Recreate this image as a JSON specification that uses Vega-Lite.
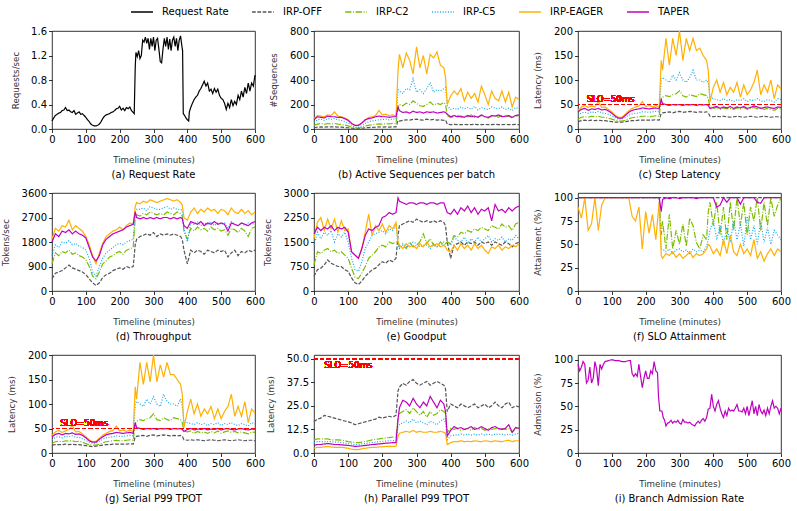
{
"$schema":"https://vega.github.io/schema/vega-lite/v6.json",
"background":"white",
"padding":{"left":1,"top":0,"right":5,"bottom":5},
"columns":3,
"bounds":"flush",
"align":"each",
"spacing":{"row":64,"column":59},
"resolve":{"scale":{"color":"shared","strokeDash":"shared"}},
"datasets":{
"pa":[{"t":0,"a":0.13},{"t":5,"a":0.18},{"t":10,"a":0.22},{"t":15,"a":0.24},{"t":20,"a":0.26},{"t":25,"a":0.27},{"t":30,"a":0.3},{"t":35,"a":0.31},{"t":40,"a":0.35},{"t":45,"a":0.3},{"t":50,"a":0.31},{"t":55,"a":0.28},{"t":60,"a":0.27},{"t":65,"a":0.3},{"t":70,"a":0.24},{"t":75,"a":0.26},{"t":80,"a":0.28},{"t":85,"a":0.24},{"t":90,"a":0.25},{"t":95,"a":0.22},{"t":100,"a":0.19},{"t":105,"a":0.15},{"t":110,"a":0.12},{"t":115,"a":0.08},{"t":120,"a":0.06},{"t":125,"a":0.05},{"t":130,"a":0.05},{"t":135,"a":0.06},{"t":140,"a":0.08},{"t":145,"a":0.12},{"t":150,"a":0.17},{"t":155,"a":0.21},{"t":160,"a":0.23},{"t":165,"a":0.24},{"t":170,"a":0.25},{"t":175,"a":0.27},{"t":180,"a":0.28},{"t":185,"a":0.3},{"t":190,"a":0.33},{"t":195,"a":0.34},{"t":200,"a":0.37},{"t":205,"a":0.31},{"t":210,"a":0.34},{"t":215,"a":0.3},{"t":220,"a":0.35},{"t":225,"a":0.33},{"t":230,"a":0.36},{"t":235,"a":0.3},{"t":240,"a":0.27},{"t":243,"a":0.25},{"t":246,"a":1.0},{"t":248,"a":1.25},{"t":252,"a":1.18},{"t":256,"a":1.28},{"t":260,"a":1.15},{"t":264,"a":1.2},{"t":268,"a":1.45},{"t":272,"a":1.42},{"t":276,"a":1.5},{"t":280,"a":1.4},{"t":284,"a":1.48},{"t":288,"a":1.3},{"t":292,"a":1.48},{"t":296,"a":1.35},{"t":300,"a":1.5},{"t":304,"a":1.28},{"t":308,"a":1.45},{"t":312,"a":1.48},{"t":316,"a":1.3},{"t":320,"a":1.1},{"t":324,"a":1.08},{"t":328,"a":1.3},{"t":332,"a":1.48},{"t":336,"a":1.35},{"t":340,"a":1.5},{"t":344,"a":1.3},{"t":348,"a":1.47},{"t":352,"a":1.28},{"t":356,"a":1.45},{"t":360,"a":1.5},{"t":364,"a":1.35},{"t":368,"a":1.48},{"t":372,"a":1.28},{"t":376,"a":1.45},{"t":380,"a":1.52},{"t":384,"a":1.35},{"t":386,"a":1.28},{"t":388,"a":0.25},{"t":392,"a":0.22},{"t":396,"a":0.18},{"t":400,"a":0.15},{"t":404,"a":0.13},{"t":406,"a":0.28},{"t":410,"a":0.35},{"t":415,"a":0.42},{"t":420,"a":0.48},{"t":425,"a":0.52},{"t":430,"a":0.55},{"t":435,"a":0.62},{"t":440,"a":0.66},{"t":445,"a":0.72},{"t":450,"a":0.78},{"t":455,"a":0.7},{"t":460,"a":0.75},{"t":465,"a":0.62},{"t":470,"a":0.65},{"t":475,"a":0.58},{"t":480,"a":0.66},{"t":485,"a":0.6},{"t":490,"a":0.65},{"t":495,"a":0.55},{"t":500,"a":0.5},{"t":505,"a":0.48},{"t":510,"a":0.42},{"t":515,"a":0.32},{"t":520,"a":0.42},{"t":525,"a":0.35},{"t":530,"a":0.48},{"t":535,"a":0.38},{"t":540,"a":0.45},{"t":545,"a":0.4},{"t":550,"a":0.55},{"t":555,"a":0.48},{"t":560,"a":0.62},{"t":565,"a":0.52},{"t":570,"a":0.68},{"t":575,"a":0.58},{"t":580,"a":0.75},{"t":585,"a":0.62},{"t":590,"a":0.75},{"t":595,"a":0.7},{"t":600,"a":0.88}],
"pb":[{"t":0,"b":10,"c":30,"d":55,"e":85,"f":75},{"t":10,"b":15,"c":40,"d":75,"e":110,"f":100},{"t":20,"b":17,"c":45,"d":80,"e":105,"f":95},{"t":30,"b":15,"c":38,"d":70,"e":100,"f":90},{"t":40,"b":18,"c":45,"d":85,"e":115,"f":105},{"t":50,"b":17,"c":42,"d":80,"e":110,"f":100},{"t":60,"b":18,"c":45,"d":85,"e":140,"f":100},{"t":70,"b":16,"c":40,"d":75,"e":105,"f":95},{"t":80,"b":15,"c":38,"d":70,"e":100,"f":95},{"t":90,"b":12,"c":32,"d":60,"e":90,"f":85},{"t":100,"b":10,"c":25,"d":50,"e":75,"f":70},{"t":110,"b":7,"c":15,"d":30,"e":45,"f":45},{"t":120,"b":5,"c":8,"d":15,"e":28,"f":30},{"t":130,"b":5,"c":8,"d":15,"e":30,"f":30},{"t":140,"b":6,"c":12,"d":25,"e":45,"f":50},{"t":150,"b":10,"c":25,"d":45,"e":75,"f":75},{"t":160,"b":12,"c":30,"d":60,"e":95,"f":85},{"t":170,"b":14,"c":35,"d":65,"e":100,"f":90},{"t":180,"b":15,"c":38,"d":70,"e":110,"f":100},{"t":190,"b":17,"c":42,"d":75,"e":150,"f":105},{"t":200,"b":16,"c":40,"d":78,"e":115,"f":100},{"t":210,"b":17,"c":43,"d":80,"e":120,"f":100},{"t":220,"b":16,"c":42,"d":75,"e":110,"f":95},{"t":230,"b":18,"c":45,"d":82,"e":115,"f":100},{"t":240,"b":17,"c":44,"d":80,"e":105,"f":100},{"t":246,"b":70,"c":175,"d":320,"e":480,"f":180},{"t":250,"b":65,"c":200,"d":310,"e":610,"f":150},{"t":260,"b":70,"c":190,"d":290,"e":500,"f":135},{"t":270,"b":75,"c":210,"d":330,"e":620,"f":140},{"t":280,"b":72,"c":200,"d":320,"e":560,"f":130},{"t":290,"b":78,"c":230,"d":410,"e":450,"f":145},{"t":300,"b":80,"c":210,"d":300,"e":670,"f":135},{"t":310,"b":75,"c":190,"d":320,"e":500,"f":140},{"t":320,"b":72,"c":185,"d":290,"e":600,"f":130},{"t":330,"b":80,"c":200,"d":330,"e":450,"f":140},{"t":340,"b":75,"c":220,"d":380,"e":610,"f":135},{"t":350,"b":78,"c":195,"d":300,"e":580,"f":140},{"t":360,"b":72,"c":210,"d":320,"e":630,"f":130},{"t":370,"b":75,"c":200,"d":310,"e":520,"f":135},{"t":380,"b":70,"c":215,"d":330,"e":500,"f":140},{"t":385,"b":72,"c":200,"d":340,"e":420,"f":135},{"t":390,"b":40,"c":110,"d":190,"e":200,"f":120},{"t":400,"b":35,"c":95,"d":160,"e":270,"f":100},{"t":410,"b":38,"c":100,"d":170,"e":310,"f":110},{"t":420,"b":36,"c":110,"d":160,"e":280,"f":100},{"t":430,"b":35,"c":95,"d":180,"e":330,"f":105},{"t":440,"b":37,"c":105,"d":165,"e":230,"f":95},{"t":450,"b":36,"c":100,"d":175,"e":300,"f":110},{"t":460,"b":35,"c":115,"d":160,"e":250,"f":100},{"t":470,"b":38,"c":95,"d":185,"e":290,"f":105},{"t":480,"b":36,"c":100,"d":155,"e":220,"f":95},{"t":490,"b":35,"c":110,"d":175,"e":350,"f":115},{"t":500,"b":37,"c":100,"d":165,"e":280,"f":100},{"t":510,"b":36,"c":90,"d":160,"e":200,"f":95},{"t":520,"b":35,"c":105,"d":180,"e":310,"f":110},{"t":530,"b":38,"c":110,"d":170,"e":250,"f":105},{"t":540,"b":36,"c":95,"d":165,"e":230,"f":115},{"t":550,"b":35,"c":110,"d":180,"e":310,"f":100},{"t":560,"b":37,"c":100,"d":160,"e":220,"f":105},{"t":570,"b":36,"c":105,"d":170,"e":300,"f":110},{"t":580,"b":35,"c":90,"d":150,"e":180,"f":95},{"t":590,"b":37,"c":105,"d":175,"e":260,"f":110},{"t":600,"b":36,"c":110,"d":165,"e":240,"f":115}],
"pc":[{"t":0,"b":15,"c":20,"d":28,"e":38,"f":35},{"t":10,"b":17,"c":24,"d":33,"e":45,"f":40},{"t":20,"b":18,"c":25,"d":34,"e":48,"f":42},{"t":30,"b":17,"c":24,"d":32,"e":44,"f":38},{"t":40,"b":18,"c":26,"d":35,"e":47,"f":41},{"t":50,"b":17,"c":25,"d":33,"e":45,"f":40},{"t":60,"b":18,"c":26,"d":36,"e":56,"f":42},{"t":70,"b":17,"c":24,"d":33,"e":44,"f":39},{"t":80,"b":17,"c":24,"d":32,"e":45,"f":40},{"t":90,"b":16,"c":22,"d":30,"e":40,"f":37},{"t":100,"b":15,"c":20,"d":27,"e":35,"f":32},{"t":110,"b":14,"c":18,"d":23,"e":28,"f":26},{"t":120,"b":14,"c":16,"d":20,"e":24,"f":22},{"t":130,"b":14,"c":16,"d":20,"e":24,"f":22},{"t":140,"b":15,"c":18,"d":24,"e":30,"f":28},{"t":150,"b":16,"c":21,"d":28,"e":37,"f":34},{"t":160,"b":17,"c":23,"d":31,"e":42,"f":38},{"t":170,"b":17,"c":24,"d":32,"e":45,"f":40},{"t":180,"b":18,"c":25,"d":33,"e":47,"f":41},{"t":190,"b":18,"c":26,"d":35,"e":56,"f":43},{"t":200,"b":18,"c":26,"d":35,"e":46,"f":42},{"t":210,"b":18,"c":25,"d":34,"e":48,"f":41},{"t":220,"b":18,"c":26,"d":35,"e":45,"f":42},{"t":230,"b":19,"c":27,"d":36,"e":48,"f":43},{"t":240,"b":18,"c":26,"d":35,"e":44,"f":41},{"t":246,"b":32,"c":62,"d":100,"e":140,"f":60},{"t":250,"b":33,"c":65,"d":105,"e":120,"f":52},{"t":260,"b":34,"c":68,"d":100,"e":185,"f":50},{"t":270,"b":35,"c":66,"d":95,"e":130,"f":48},{"t":280,"b":33,"c":70,"d":110,"e":185,"f":50},{"t":290,"b":35,"c":72,"d":100,"e":150,"f":49},{"t":300,"b":36,"c":78,"d":115,"e":200,"f":50},{"t":310,"b":34,"c":68,"d":100,"e":140,"f":48},{"t":320,"b":35,"c":65,"d":95,"e":185,"f":50},{"t":330,"b":36,"c":70,"d":105,"e":160,"f":49},{"t":340,"b":35,"c":68,"d":120,"e":185,"f":50},{"t":350,"b":34,"c":66,"d":100,"e":160,"f":48},{"t":360,"b":35,"c":72,"d":100,"e":165,"f":50},{"t":370,"b":34,"c":70,"d":95,"e":150,"f":49},{"t":380,"b":35,"c":68,"d":100,"e":140,"f":50},{"t":385,"b":33,"c":62,"d":95,"e":120,"f":48},{"t":390,"b":26,"c":45,"d":65,"e":55,"f":42},{"t":400,"b":25,"c":42,"d":62,"e":85,"f":44},{"t":410,"b":26,"c":44,"d":60,"e":100,"f":46},{"t":420,"b":25,"c":40,"d":58,"e":75,"f":42},{"t":430,"b":26,"c":43,"d":62,"e":95,"f":45},{"t":440,"b":25,"c":41,"d":58,"e":70,"f":43},{"t":450,"b":24,"c":42,"d":60,"e":85,"f":46},{"t":460,"b":25,"c":40,"d":56,"e":75,"f":42},{"t":470,"b":26,"c":43,"d":60,"e":95,"f":45},{"t":480,"b":25,"c":41,"d":58,"e":65,"f":43},{"t":490,"b":24,"c":44,"d":62,"e":90,"f":46},{"t":500,"b":25,"c":40,"d":56,"e":70,"f":42},{"t":510,"b":26,"c":42,"d":60,"e":80,"f":44},{"t":520,"b":25,"c":44,"d":58,"e":95,"f":47},{"t":530,"b":24,"c":41,"d":62,"e":120,"f":45},{"t":540,"b":25,"c":43,"d":58,"e":70,"f":42},{"t":550,"b":26,"c":40,"d":56,"e":90,"f":44},{"t":560,"b":25,"c":42,"d":60,"e":75,"f":45},{"t":570,"b":24,"c":40,"d":58,"e":100,"f":43},{"t":580,"b":25,"c":38,"d":55,"e":62,"f":42},{"t":590,"b":25,"c":42,"d":62,"e":90,"f":45},{"t":600,"b":24,"c":41,"d":60,"e":82,"f":44}],
"pd":[{"t":0,"b":450,"c":1000,"d":1300,"e":1900,"f":1800},{"t":10,"b":650,"c":1400,"d":1700,"e":2300,"f":2100},{"t":20,"b":700,"c":1300,"d":1600,"e":2200,"f":2000},{"t":30,"b":750,"c":1450,"d":1800,"e":2400,"f":2200},{"t":40,"b":850,"c":1400,"d":1750,"e":2350,"f":2150},{"t":50,"b":950,"c":1500,"d":1850,"e":2600,"f":2250},{"t":60,"b":850,"c":1350,"d":1700,"e":2250,"f":2100},{"t":70,"b":800,"c":1400,"d":1750,"e":2400,"f":2200},{"t":80,"b":750,"c":1300,"d":1650,"e":2300,"f":2100},{"t":90,"b":700,"c":1250,"d":1600,"e":2200,"f":2050},{"t":100,"b":600,"c":1150,"d":1500,"e":2000,"f":1950},{"t":110,"b":450,"c":900,"d":1200,"e":1700,"f":1600},{"t":120,"b":300,"c":550,"d":700,"e":1300,"f":1250},{"t":130,"b":200,"c":450,"d":550,"e":1000,"f":1100},{"t":140,"b":300,"c":700,"d":900,"e":1400,"f":1300},{"t":150,"b":500,"c":1000,"d":1200,"e":1750,"f":1700},{"t":160,"b":600,"c":1100,"d":1400,"e":2000,"f":1900},{"t":170,"b":650,"c":1250,"d":1500,"e":2100,"f":2000},{"t":180,"b":750,"c":1300,"d":1600,"e":2200,"f":2100},{"t":190,"b":800,"c":1400,"d":1700,"e":2250,"f":2150},{"t":200,"b":850,"c":1450,"d":1750,"e":2350,"f":2200},{"t":210,"b":800,"c":1350,"d":1700,"e":2250,"f":2250},{"t":220,"b":900,"c":1500,"d":1800,"e":2400,"f":2350},{"t":230,"b":850,"c":1550,"d":1850,"e":2500,"f":2400},{"t":240,"b":900,"c":1600,"d":1900,"e":2450,"f":2450},{"t":246,"b":1700,"c":2700,"d":2900,"e":3100,"f":2900},{"t":250,"b":1900,"c":2800,"d":3000,"e":3250,"f":2700},{"t":260,"b":2000,"c":2750,"d":3000,"e":3200,"f":2650},{"t":270,"b":2050,"c":2850,"d":3050,"e":3300,"f":2700},{"t":280,"b":2100,"c":2800,"d":2950,"e":3250,"f":2650},{"t":290,"b":2050,"c":2900,"d":3100,"e":3350,"f":2700},{"t":300,"b":2150,"c":2850,"d":3050,"e":3300,"f":2650},{"t":310,"b":2000,"c":2800,"d":3000,"e":3250,"f":2700},{"t":320,"b":2100,"c":2850,"d":3000,"e":3300,"f":2650},{"t":330,"b":2050,"c":2800,"d":3050,"e":3350,"f":2700},{"t":340,"b":2100,"c":2900,"d":3100,"e":3400,"f":2700},{"t":350,"b":2050,"c":2850,"d":3000,"e":3350,"f":2650},{"t":360,"b":2100,"c":2800,"d":3050,"e":3300,"f":2700},{"t":370,"b":2050,"c":2900,"d":3000,"e":3350,"f":2650},{"t":380,"b":2000,"c":2850,"d":3000,"e":3250,"f":2700},{"t":385,"b":1900,"c":2750,"d":2950,"e":3150,"f":2650},{"t":390,"b":1500,"c":2200,"d":2300,"e":2700,"f":2400},{"t":400,"b":1000,"c":1900,"d":1800,"e":2600,"f":2300},{"t":410,"b":1500,"c":2300,"d":2500,"e":2900,"f":2550},{"t":420,"b":1400,"c":2200,"d":2450,"e":3050,"f":2500},{"t":430,"b":1500,"c":2350,"d":2550,"e":2850,"f":2450},{"t":440,"b":1450,"c":2250,"d":2400,"e":3000,"f":2550},{"t":450,"b":1350,"c":2300,"d":2500,"e":2900,"f":2400},{"t":460,"b":1500,"c":2200,"d":2450,"e":3050,"f":2500},{"t":470,"b":1450,"c":2350,"d":2550,"e":2950,"f":2450},{"t":480,"b":1400,"c":2250,"d":2400,"e":3000,"f":2550},{"t":490,"b":1500,"c":2300,"d":2500,"e":2850,"f":2450},{"t":500,"b":1450,"c":2200,"d":2450,"e":3000,"f":2500},{"t":510,"b":1500,"c":2250,"d":2500,"e":2950,"f":2450},{"t":520,"b":1250,"c":2050,"d":2300,"e":2800,"f":2200},{"t":530,"b":1400,"c":2300,"d":2550,"e":3050,"f":2500},{"t":540,"b":1500,"c":2250,"d":2450,"e":2900,"f":2450},{"t":550,"b":1300,"c":2150,"d":2400,"e":2850,"f":2400},{"t":560,"b":1450,"c":2300,"d":2500,"e":3000,"f":2500},{"t":570,"b":1400,"c":2200,"d":2400,"e":2850,"f":2450},{"t":580,"b":1500,"c":2000,"d":2500,"e":2950,"f":2400},{"t":590,"b":1450,"c":2300,"d":2450,"e":2800,"f":2500},{"t":600,"b":1500,"c":2350,"d":2500,"e":2900,"f":2550}],
"pe":[{"t":0,"b":450,"c":800,"d":1400,"e":1600,"f":1750},{"t":10,"b":650,"c":1200,"d":1800,"e":2100,"f":1950},{"t":20,"b":700,"c":1150,"d":1600,"e":2250,"f":1850},{"t":30,"b":800,"c":1250,"d":1800,"e":1850,"f":1950},{"t":40,"b":950,"c":1300,"d":1700,"e":2200,"f":1900},{"t":50,"b":850,"c":1200,"d":1850,"e":1900,"f":2000},{"t":60,"b":800,"c":1250,"d":1500,"e":2200,"f":1850},{"t":70,"b":750,"c":1150,"d":1750,"e":1800,"f":1950},{"t":80,"b":750,"c":1200,"d":1650,"e":2150,"f":1900},{"t":90,"b":650,"c":1100,"d":1800,"e":1850,"f":1950},{"t":100,"b":600,"c":1000,"d":1500,"e":1900,"f":1800},{"t":110,"b":400,"c":700,"d":1000,"e":1200,"f":1200},{"t":120,"b":250,"c":420,"d":650,"e":1100,"f":1100},{"t":130,"b":200,"c":380,"d":600,"e":1000,"f":1000},{"t":140,"b":300,"c":550,"d":900,"e":1300,"f":1300},{"t":150,"b":450,"c":750,"d":1300,"e":1800,"f":1700},{"t":160,"b":550,"c":1000,"d":1500,"e":2350,"f":1900},{"t":170,"b":650,"c":1100,"d":1700,"e":1700,"f":1850},{"t":180,"b":700,"c":1200,"d":1750,"e":2000,"f":1950},{"t":190,"b":800,"c":1350,"d":1800,"e":1850,"f":2000},{"t":200,"b":900,"c":1400,"d":1850,"e":2050,"f":2250},{"t":210,"b":850,"c":1350,"d":1750,"e":1800,"f":2300},{"t":220,"b":950,"c":1500,"d":1900,"e":2000,"f":2400},{"t":230,"b":900,"c":1450,"d":1850,"e":1900,"f":2350},{"t":240,"b":1000,"c":1500,"d":2000,"e":2100,"f":2400},{"t":246,"b":1700,"c":1500,"d":1400,"e":1500,"f":2850},{"t":250,"b":2000,"c":1350,"d":1300,"e":1400,"f":2750},{"t":260,"b":2050,"c":1400,"d":1450,"e":1300,"f":2700},{"t":270,"b":2100,"c":1300,"d":1350,"e":1450,"f":2650},{"t":280,"b":2150,"c":1500,"d":1400,"e":1350,"f":2700},{"t":290,"b":2100,"c":1350,"d":1500,"e":1400,"f":2700},{"t":300,"b":2200,"c":1400,"d":1450,"e":1300,"f":2650},{"t":310,"b":2150,"c":1500,"d":1350,"e":1450,"f":2700},{"t":320,"b":2100,"c":1750,"d":1400,"e":1350,"f":2700},{"t":330,"b":2150,"c":1450,"d":1400,"e":1500,"f":2650},{"t":340,"b":2100,"c":1600,"d":1300,"e":1350,"f":2700},{"t":350,"b":2150,"c":1400,"d":1450,"e":1400,"f":2700},{"t":360,"b":2100,"c":1350,"d":1350,"e":1450,"f":2650},{"t":370,"b":2150,"c":1500,"d":1400,"e":1350,"f":2700},{"t":380,"b":2100,"c":1400,"d":1500,"e":1400,"f":2700},{"t":385,"b":2000,"c":1450,"d":1450,"e":1350,"f":2550},{"t":390,"b":1500,"c":1500,"d":1500,"e":1250,"f":2400},{"t":400,"b":1000,"c":1450,"d":1400,"e":1200,"f":2350},{"t":410,"b":1400,"c":1700,"d":1650,"e":1400,"f":2500},{"t":420,"b":1450,"c":1650,"d":1550,"e":1250,"f":2350},{"t":430,"b":1500,"c":1800,"d":1500,"e":1450,"f":2550},{"t":440,"b":1400,"c":1750,"d":1650,"e":1300,"f":2450},{"t":450,"b":1500,"c":1850,"d":1450,"e":1400,"f":2600},{"t":460,"b":1450,"c":1800,"d":1600,"e":1250,"f":2400},{"t":470,"b":1500,"c":1900,"d":1500,"e":1450,"f":2550},{"t":480,"b":1400,"c":1850,"d":1650,"e":1300,"f":2350},{"t":490,"b":1500,"c":1950,"d":1500,"e":1400,"f":2500},{"t":500,"b":1450,"c":1900,"d":1600,"e":1250,"f":2450},{"t":510,"b":1500,"c":1850,"d":1700,"e":1150,"f":2550},{"t":520,"b":1400,"c":2000,"d":1500,"e":1350,"f":2150},{"t":530,"b":1500,"c":1950,"d":1600,"e":1300,"f":2650},{"t":540,"b":1450,"c":1900,"d":1550,"e":1400,"f":2450},{"t":550,"b":1400,"c":2050,"d":1650,"e":1250,"f":2500},{"t":560,"b":1500,"c":1950,"d":1500,"e":1350,"f":2400},{"t":570,"b":1450,"c":2000,"d":1600,"e":1300,"f":2550},{"t":580,"b":1350,"c":1850,"d":1550,"e":1400,"f":2450},{"t":590,"b":1450,"c":2050,"d":1700,"e":1350,"f":2550},{"t":600,"b":1500,"c":2100,"d":1600,"e":1450,"f":2600}],
"pf":[{"t":0,"b":100,"c":100,"d":100,"e":90,"f":100},{"t":10,"b":100,"c":100,"d":100,"e":78,"f":100},{"t":20,"b":100,"c":100,"d":100,"e":100,"f":100},{"t":30,"b":100,"c":100,"d":100,"e":65,"f":100},{"t":40,"b":100,"c":100,"d":100,"e":72,"f":100},{"t":50,"b":100,"c":100,"d":100,"e":100,"f":100},{"t":60,"b":100,"c":100,"d":100,"e":65,"f":100},{"t":70,"b":100,"c":100,"d":100,"e":92,"f":100},{"t":80,"b":100,"c":100,"d":100,"e":100,"f":100},{"t":90,"b":100,"c":100,"d":100,"e":100,"f":100},{"t":100,"b":100,"c":100,"d":100,"e":100,"f":100},{"t":110,"b":100,"c":100,"d":100,"e":100,"f":100},{"t":120,"b":100,"c":100,"d":100,"e":100,"f":100},{"t":130,"b":100,"c":100,"d":100,"e":100,"f":100},{"t":140,"b":100,"c":100,"d":100,"e":100,"f":100},{"t":150,"b":100,"c":100,"d":100,"e":100,"f":100},{"t":160,"b":100,"c":100,"d":100,"e":80,"f":100},{"t":170,"b":100,"c":100,"d":100,"e":75,"f":100},{"t":180,"b":100,"c":100,"d":100,"e":90,"f":100},{"t":190,"b":100,"c":100,"d":100,"e":45,"f":100},{"t":200,"b":100,"c":100,"d":100,"e":85,"f":100},{"t":210,"b":100,"c":100,"d":100,"e":62,"f":100},{"t":220,"b":100,"c":100,"d":100,"e":82,"f":100},{"t":230,"b":100,"c":100,"d":100,"e":55,"f":100},{"t":240,"b":100,"c":100,"d":100,"e":95,"f":100},{"t":246,"b":100,"c":60,"d":45,"e":38,"f":85},{"t":250,"b":100,"c":75,"d":45,"e":35,"f":98},{"t":260,"b":100,"c":45,"d":42,"e":40,"f":100},{"t":270,"b":100,"c":82,"d":45,"e":38,"f":99},{"t":280,"b":100,"c":45,"d":40,"e":42,"f":100},{"t":290,"b":100,"c":65,"d":44,"e":36,"f":100},{"t":300,"b":100,"c":50,"d":45,"e":40,"f":99},{"t":310,"b":100,"c":72,"d":42,"e":35,"f":100},{"t":320,"b":100,"c":48,"d":44,"e":38,"f":100},{"t":330,"b":100,"c":78,"d":40,"e":42,"f":100},{"t":340,"b":100,"c":70,"d":45,"e":36,"f":100},{"t":350,"b":100,"c":52,"d":42,"e":40,"f":99},{"t":360,"b":100,"c":45,"d":44,"e":38,"f":100},{"t":370,"b":100,"c":60,"d":42,"e":40,"f":100},{"t":380,"b":100,"c":55,"d":48,"e":45,"f":100},{"t":385,"b":100,"c":85,"d":55,"e":50,"f":100},{"t":390,"b":100,"c":95,"d":65,"e":48,"f":100},{"t":400,"b":100,"c":70,"d":75,"e":40,"f":100},{"t":410,"b":100,"c":95,"d":55,"e":45,"f":90},{"t":420,"b":100,"c":60,"d":70,"e":38,"f":92},{"t":430,"b":100,"c":90,"d":50,"e":55,"f":100},{"t":440,"b":100,"c":55,"d":68,"e":40,"f":95},{"t":450,"b":100,"c":95,"d":52,"e":60,"f":100},{"t":460,"b":100,"c":65,"d":75,"e":42,"f":100},{"t":470,"b":100,"c":100,"d":55,"e":38,"f":100},{"t":480,"b":100,"c":70,"d":72,"e":50,"f":93},{"t":490,"b":100,"c":95,"d":48,"e":40,"f":100},{"t":500,"b":100,"c":60,"d":80,"e":45,"f":100},{"t":510,"b":100,"c":90,"d":55,"e":38,"f":100},{"t":520,"b":100,"c":75,"d":70,"e":55,"f":100},{"t":530,"b":100,"c":100,"d":50,"e":35,"f":95},{"t":540,"b":100,"c":65,"d":75,"e":42,"f":94},{"t":550,"b":100,"c":95,"d":52,"e":32,"f":100},{"t":560,"b":100,"c":70,"d":68,"e":40,"f":100},{"t":570,"b":100,"c":100,"d":50,"e":45,"f":100},{"t":580,"b":100,"c":80,"d":65,"e":38,"f":100},{"t":590,"b":100,"c":92,"d":60,"e":45,"f":100},{"t":600,"b":100,"c":100,"d":55,"e":42,"f":100}],
"pg":[{"t":0,"b":16,"c":20,"d":27,"e":36,"f":33},{"t":10,"b":17,"c":23,"d":32,"e":43,"f":38},{"t":20,"b":17,"c":24,"d":33,"e":46,"f":40},{"t":30,"b":17,"c":23,"d":31,"e":42,"f":37},{"t":40,"b":18,"c":25,"d":34,"e":45,"f":40},{"t":50,"b":17,"c":24,"d":33,"e":48,"f":39},{"t":60,"b":18,"c":25,"d":35,"e":56,"f":41},{"t":70,"b":17,"c":23,"d":32,"e":43,"f":38},{"t":80,"b":17,"c":24,"d":32,"e":44,"f":39},{"t":90,"b":16,"c":22,"d":29,"e":39,"f":36},{"t":100,"b":15,"c":19,"d":26,"e":33,"f":31},{"t":110,"b":14,"c":17,"d":22,"e":27,"f":25},{"t":120,"b":13,"c":16,"d":20,"e":23,"f":22},{"t":130,"b":14,"c":16,"d":20,"e":24,"f":22},{"t":140,"b":15,"c":18,"d":24,"e":30,"f":28},{"t":150,"b":16,"c":21,"d":28,"e":36,"f":33},{"t":160,"b":17,"c":23,"d":31,"e":40,"f":37},{"t":170,"b":17,"c":24,"d":32,"e":44,"f":39},{"t":180,"b":18,"c":25,"d":33,"e":46,"f":40},{"t":190,"b":18,"c":26,"d":35,"e":55,"f":42},{"t":200,"b":18,"c":25,"d":34,"e":45,"f":41},{"t":210,"b":18,"c":25,"d":34,"e":47,"f":40},{"t":220,"b":18,"c":26,"d":35,"e":44,"f":41},{"t":230,"b":19,"c":27,"d":36,"e":47,"f":42},{"t":240,"b":18,"c":26,"d":35,"e":43,"f":40},{"t":246,"b":33,"c":60,"d":100,"e":135,"f":62},{"t":250,"b":34,"c":65,"d":105,"e":110,"f":52},{"t":260,"b":35,"c":68,"d":100,"e":185,"f":50},{"t":270,"b":36,"c":66,"d":95,"e":140,"f":48},{"t":280,"b":34,"c":70,"d":110,"e":185,"f":50},{"t":290,"b":36,"c":72,"d":100,"e":145,"f":49},{"t":300,"b":37,"c":80,"d":115,"e":200,"f":50},{"t":310,"b":35,"c":68,"d":100,"e":145,"f":48},{"t":320,"b":36,"c":66,"d":95,"e":180,"f":50},{"t":330,"b":37,"c":72,"d":120,"e":155,"f":49},{"t":340,"b":36,"c":68,"d":105,"e":185,"f":50},{"t":350,"b":35,"c":66,"d":100,"e":160,"f":48},{"t":360,"b":36,"c":72,"d":100,"e":160,"f":50},{"t":370,"b":35,"c":70,"d":95,"e":150,"f":49},{"t":380,"b":36,"c":68,"d":110,"e":140,"f":50},{"t":385,"b":34,"c":62,"d":95,"e":120,"f":48},{"t":390,"b":27,"c":45,"d":62,"e":52,"f":44},{"t":400,"b":26,"c":43,"d":62,"e":85,"f":48},{"t":410,"b":27,"c":45,"d":60,"e":110,"f":50},{"t":420,"b":26,"c":40,"d":58,"e":80,"f":47},{"t":430,"b":27,"c":44,"d":62,"e":100,"f":49},{"t":440,"b":26,"c":41,"d":58,"e":75,"f":48},{"t":450,"b":25,"c":43,"d":60,"e":90,"f":50},{"t":460,"b":26,"c":40,"d":56,"e":80,"f":47},{"t":470,"b":27,"c":44,"d":60,"e":95,"f":49},{"t":480,"b":26,"c":41,"d":58,"e":70,"f":48},{"t":490,"b":25,"c":45,"d":62,"e":90,"f":50},{"t":500,"b":26,"c":40,"d":56,"e":70,"f":47},{"t":510,"b":27,"c":43,"d":60,"e":85,"f":49},{"t":520,"b":26,"c":45,"d":58,"e":95,"f":50},{"t":530,"b":25,"c":42,"d":62,"e":120,"f":48},{"t":540,"b":26,"c":44,"d":58,"e":75,"f":47},{"t":550,"b":27,"c":41,"d":56,"e":95,"f":49},{"t":560,"b":26,"c":43,"d":60,"e":75,"f":50},{"t":570,"b":25,"c":41,"d":58,"e":105,"f":48},{"t":580,"b":26,"c":39,"d":55,"e":62,"f":47},{"t":590,"b":26,"c":43,"d":62,"e":90,"f":49},{"t":600,"b":25,"c":42,"d":60,"e":82,"f":48}],
"ph":[{"t":0,"b":16.5,"c":7,"d":5.5,"e":2.5,"f":4},{"t":10,"b":18,"c":7.5,"d":6,"e":3,"f":4.5},{"t":20,"b":18.5,"c":7.5,"d":6,"e":3,"f":4.5},{"t":30,"b":20,"c":7.5,"d":6,"e":3.2,"f":4.8},{"t":40,"b":19.5,"c":7.5,"d":6,"e":3.5,"f":5},{"t":50,"b":19,"c":7,"d":6,"e":3.2,"f":4.8},{"t":60,"b":18.5,"c":7,"d":5.8,"e":3,"f":4.5},{"t":70,"b":18,"c":7,"d":5.8,"e":3,"f":4.5},{"t":80,"b":17.5,"c":6.8,"d":5.5,"e":3,"f":4.3},{"t":90,"b":17,"c":6.5,"d":5.3,"e":2.8,"f":4.2},{"t":100,"b":16.5,"c":6,"d":5,"e":2.5,"f":4},{"t":110,"b":16,"c":5.8,"d":4.8,"e":2,"f":3.8},{"t":120,"b":15,"c":5.5,"d":4.5,"e":1.8,"f":3.5},{"t":130,"b":15.5,"c":5.5,"d":4.5,"e":1.8,"f":3.6},{"t":140,"b":16,"c":5.8,"d":4.8,"e":2.2,"f":3.8},{"t":150,"b":16.5,"c":6,"d":5,"e":2.5,"f":4},{"t":160,"b":17,"c":6.5,"d":5.3,"e":2.8,"f":4.2},{"t":170,"b":17.5,"c":7,"d":5.5,"e":3,"f":4.5},{"t":180,"b":18,"c":7.3,"d":5.8,"e":3,"f":4.6},{"t":190,"b":19,"c":7.5,"d":6,"e":3.2,"f":4.8},{"t":200,"b":18.5,"c":7.8,"d":6.2,"e":3.3,"f":5},{"t":210,"b":19,"c":8,"d":6.3,"e":3.5,"f":5.2},{"t":220,"b":19.5,"c":8.2,"d":6.5,"e":3.5,"f":5.3},{"t":230,"b":19,"c":8.5,"d":6.5,"e":3.5,"f":5.5},{"t":240,"b":20,"c":8.5,"d":6.8,"e":3.6,"f":5.5},{"t":246,"b":33,"c":19,"d":14,"e":9,"f":18},{"t":250,"b":35,"c":21,"d":15,"e":10.5,"f":24},{"t":260,"b":37,"c":22,"d":16,"e":11,"f":28},{"t":270,"b":36,"c":23,"d":17,"e":11.5,"f":27},{"t":280,"b":38,"c":21,"d":16,"e":11,"f":25},{"t":290,"b":39,"c":24,"d":18,"e":12,"f":29},{"t":300,"b":37,"c":22,"d":16,"e":11,"f":26},{"t":310,"b":36,"c":20,"d":17,"e":11.5,"f":24},{"t":320,"b":37,"c":22,"d":16,"e":11,"f":27},{"t":330,"b":38,"c":19,"d":15,"e":11,"f":25},{"t":340,"b":36,"c":22,"d":17,"e":11.5,"f":30},{"t":350,"b":37,"c":20,"d":16,"e":11,"f":27},{"t":360,"b":38,"c":21,"d":15,"e":11,"f":24},{"t":370,"b":37,"c":23,"d":17,"e":11.5,"f":28},{"t":380,"b":36,"c":22,"d":18,"e":11,"f":26},{"t":385,"b":34,"c":21,"d":16,"e":10.5,"f":22},{"t":390,"b":22,"c":11,"d":7,"e":4.5,"f":9},{"t":400,"b":26,"c":13,"d":9,"e":5.5,"f":12},{"t":410,"b":25,"c":12.5,"d":9.5,"e":6,"f":14},{"t":420,"b":24,"c":13,"d":9.5,"e":6,"f":13},{"t":430,"b":26,"c":12,"d":10,"e":6.5,"f":13.5},{"t":440,"b":25,"c":12.5,"d":9.5,"e":6,"f":12.5},{"t":450,"b":24,"c":13,"d":10,"e":6.2,"f":13},{"t":460,"b":25,"c":12,"d":9.5,"e":6,"f":14},{"t":470,"b":26,"c":13.5,"d":10,"e":6.5,"f":12.5},{"t":480,"b":24,"c":12.5,"d":9.5,"e":6.2,"f":13},{"t":490,"b":25,"c":13,"d":10,"e":6,"f":14},{"t":500,"b":26,"c":12,"d":9.5,"e":6.5,"f":13},{"t":510,"b":24,"c":13,"d":10,"e":6.3,"f":12},{"t":520,"b":25,"c":12.5,"d":9.5,"e":6,"f":13.5},{"t":530,"b":27,"c":13,"d":10,"e":6.5,"f":14},{"t":540,"b":25,"c":12.5,"d":9.8,"e":6.2,"f":13},{"t":550,"b":24,"c":13,"d":10,"e":6,"f":12.5},{"t":560,"b":26,"c":12.5,"d":9.5,"e":6.5,"f":13},{"t":570,"b":27,"c":13,"d":10,"e":6.8,"f":15},{"t":580,"b":24,"c":11,"d":9.5,"e":6,"f":11},{"t":590,"b":25,"c":13,"d":10,"e":6.5,"f":13.5},{"t":600,"b":24.5,"c":13.5,"d":10.5,"e":6.5,"f":13}],
"pi":[{"t":0,"f":95},{"t":5,"f":88},{"t":10,"f":92},{"t":15,"f":98},{"t":20,"f":95},{"t":25,"f":75},{"t":30,"f":78},{"t":35,"f":92},{"t":40,"f":75},{"t":45,"f":80},{"t":50,"f":98},{"t":55,"f":90},{"t":60,"f":72},{"t":65,"f":95},{"t":70,"f":90},{"t":75,"f":95},{"t":80,"f":98},{"t":90,"f":99},{"t":100,"f":100},{"t":110,"f":99},{"t":120,"f":99},{"t":130,"f":98},{"t":140,"f":98},{"t":150,"f":99},{"t":155,"f":99},{"t":160,"f":85},{"t":165,"f":82},{"t":170,"f":85},{"t":175,"f":82},{"t":180,"f":95},{"t":185,"f":82},{"t":190,"f":70},{"t":195,"f":80},{"t":200,"f":88},{"t":205,"f":80},{"t":210,"f":80},{"t":215,"f":88},{"t":220,"f":85},{"t":225,"f":98},{"t":230,"f":88},{"t":235,"f":86},{"t":238,"f":60},{"t":242,"f":45},{"t":248,"f":45},{"t":252,"f":38},{"t":256,"f":35},{"t":260,"f":29},{"t":265,"f":32},{"t":270,"f":33},{"t":275,"f":35},{"t":280,"f":32},{"t":285,"f":34},{"t":290,"f":33},{"t":295,"f":35},{"t":300,"f":32},{"t":305,"f":31},{"t":310,"f":36},{"t":315,"f":33},{"t":320,"f":33},{"t":325,"f":32},{"t":330,"f":33},{"t":335,"f":31},{"t":340,"f":30},{"t":345,"f":29},{"t":350,"f":32},{"t":355,"f":34},{"t":360,"f":32},{"t":365,"f":35},{"t":370,"f":37},{"t":375,"f":34},{"t":380,"f":38},{"t":385,"f":47},{"t":390,"f":48},{"t":395,"f":63},{"t":400,"f":50},{"t":405,"f":45},{"t":410,"f":52},{"t":415,"f":56},{"t":420,"f":48},{"t":425,"f":42},{"t":430,"f":38},{"t":435,"f":45},{"t":440,"f":40},{"t":445,"f":48},{"t":450,"f":45},{"t":455,"f":46},{"t":460,"f":45},{"t":465,"f":48},{"t":470,"f":52},{"t":475,"f":45},{"t":480,"f":45},{"t":485,"f":44},{"t":490,"f":48},{"t":495,"f":42},{"t":500,"f":50},{"t":505,"f":40},{"t":510,"f":48},{"t":515,"f":56},{"t":520,"f":42},{"t":525,"f":50},{"t":530,"f":40},{"t":535,"f":52},{"t":540,"f":45},{"t":545,"f":42},{"t":550,"f":46},{"t":555,"f":40},{"t":560,"f":48},{"t":565,"f":42},{"t":570,"f":50},{"t":575,"f":56},{"t":580,"f":48},{"t":585,"f":50},{"t":590,"f":48},{"t":595,"f":42},{"t":600,"f":48}]
},
"concat":[
{"width":203,"height":98,"title":"(a) Request Rate","data":{"name":"pa"},"transform":[{"fold":["a"],"as":["s","v"]}],
"layer":[{"mark":{"type":"line","strokeWidth":1.2},"encoding":{
"x":{"field":"t","type":"quantitative","scale":{"domain":[0,600],"nice":false},"axis":{"values":[0,100,200,300,400,500,600],"title":"Timeline (minutes)"}},
"y":{"field":"v","type":"quantitative","scale":{"domain":[0,1.6],"nice":false},"axis":{"values":[0,0.4,0.8,1.2,1.6],"format":".1f","title":"Requests/sec"}},
"color":{"field":"s","type":"nominal","scale":{"domain":["a","b","c","d","e","f"],"range":["#000000","#555555","#7cbd00","#1aa9f0","#ffb000","#c000c0"]},"legend":{"title":null,"orient":"none","legendX":78,"legendY":-31,"direction":"horizontal","labelExpr":"datum.label=='a'?'Request Rate':datum.label=='b'?'IRP-OFF':datum.label=='c'?'IRP-C2':datum.label=='d'?'IRP-C5':datum.label=='e'?'IRP-EAGER':'TAPER'"}},
"strokeDash":{"field":"s","type":"nominal","scale":{"domain":["a","b","c","d","e","f"],"range":[[1,0],[3.7,1.6],[6.4,1.6,1,1.6],[1,1.65],[1,0],[1,0]]},"legend":{"title":null,"orient":"none","legendX":78,"legendY":-31,"direction":"horizontal","labelExpr":"datum.label=='a'?'Request Rate':datum.label=='b'?'IRP-OFF':datum.label=='c'?'IRP-C2':datum.label=='d'?'IRP-C5':datum.label=='e'?'IRP-EAGER':'TAPER'"}}}}]},
{"width":205,"height":98,"title":"(b) Active Sequences per batch","data":{"name":"pb"},"transform":[{"fold":["b","c","d","e","f"],"as":["s","v"]}],
"layer":[{"mark":{"type":"line","strokeWidth":1.2},"encoding":{
"x":{"field":"t","type":"quantitative","scale":{"domain":[0,600],"nice":false},"axis":{"values":[0,100,200,300,400,500,600],"title":"Timeline (minutes)"}},
"y":{"field":"v","type":"quantitative","scale":{"domain":[0,800],"nice":false},"axis":{"values":[0,200,400,600,800],"format":"d","title":"#Sequences"}},
"color":{"field":"s","type":"nominal","scale":{"domain":["a","b","c","d","e","f"],"range":["#000000","#555555","#7cbd00","#1aa9f0","#ffb000","#c000c0"]}},
"strokeDash":{"field":"s","type":"nominal","scale":{"domain":["a","b","c","d","e","f"],"range":[[1,0],[3.7,1.6],[6.4,1.6,1,1.6],[1,1.65],[1,0],[1,0]]}}}}]},
{"width":203,"height":98,"title":"(c) Step Latency","data":{"name":"pc"},"transform":[{"fold":["b","c","d","e","f"],"as":["s","v"]}],
"layer":[{"mark":{"type":"line","strokeWidth":1.2},"encoding":{
"x":{"field":"t","type":"quantitative","scale":{"domain":[0,600],"nice":false},"axis":{"values":[0,100,200,300,400,500,600],"title":"Timeline (minutes)"}},
"y":{"field":"v","type":"quantitative","scale":{"domain":[0,200],"nice":false},"axis":{"values":[0,50,100,150,200],"format":"d","title":"Latency (ms)"}},
"color":{"field":"s","type":"nominal","scale":{"domain":["a","b","c","d","e","f"],"range":["#000000","#555555","#7cbd00","#1aa9f0","#ffb000","#c000c0"]}},
"strokeDash":{"field":"s","type":"nominal","scale":{"domain":["a","b","c","d","e","f"],"range":[[1,0],[3.7,1.6],[6.4,1.6,1,1.6],[1,1.65],[1,0],[1,0]]}}}},
{"mark":{"type":"rule","color":"#ff0000","strokeDash":[4,2.5],"strokeWidth":1},"encoding":{"y":{"datum":50,"type":"quantitative","scale":{"domain":[0,200],"nice":false},"axis":{"values":[0,50,100,150,200],"format":"d","title":"Latency (ms)"}}}},
{"mark":{"type":"text","color":"#ff0000","fontSize":8.6,"align":"left","baseline":"middle","dy":-6},"encoding":{"x":{"datum":26,"type":"quantitative","scale":{"domain":[0,600],"nice":false},"axis":{"values":[0,100,200,300,400,500,600],"title":"Timeline (minutes)"}},"y":{"datum":50,"type":"quantitative","scale":{"domain":[0,200],"nice":false},"axis":{"values":[0,50,100,150,200],"format":"d","title":"Latency (ms)"}},"text":{"value":"SLO=50ms"}}}]},
{"width":203,"height":98,"title":"(d) Throughput","data":{"name":"pd"},"transform":[{"fold":["b","c","d","e","f"],"as":["s","v"]}],
"layer":[{"mark":{"type":"line","strokeWidth":1.2},"encoding":{
"x":{"field":"t","type":"quantitative","scale":{"domain":[0,600],"nice":false},"axis":{"values":[0,100,200,300,400,500,600],"title":"Timeline (minutes)"}},
"y":{"field":"v","type":"quantitative","scale":{"domain":[0,3600],"nice":false},"axis":{"values":[0,900,1800,2700,3600],"format":"d","title":"Tokens/sec"}},
"color":{"field":"s","type":"nominal","scale":{"domain":["a","b","c","d","e","f"],"range":["#000000","#555555","#7cbd00","#1aa9f0","#ffb000","#c000c0"]}},
"strokeDash":{"field":"s","type":"nominal","scale":{"domain":["a","b","c","d","e","f"],"range":[[1,0],[3.7,1.6],[6.4,1.6,1,1.6],[1,1.65],[1,0],[1,0]]}}}}]},
{"width":205,"height":98,"title":"(e) Goodput","data":{"name":"pe"},"transform":[{"fold":["b","c","d","e","f"],"as":["s","v"]}],
"layer":[{"mark":{"type":"line","strokeWidth":1.2},"encoding":{
"x":{"field":"t","type":"quantitative","scale":{"domain":[0,600],"nice":false},"axis":{"values":[0,100,200,300,400,500,600],"title":"Timeline (minutes)"}},
"y":{"field":"v","type":"quantitative","scale":{"domain":[0,3000],"nice":false},"axis":{"values":[0,750,1500,2250,3000],"format":"d","title":"Tokens/sec"}},
"color":{"field":"s","type":"nominal","scale":{"domain":["a","b","c","d","e","f"],"range":["#000000","#555555","#7cbd00","#1aa9f0","#ffb000","#c000c0"]}},
"strokeDash":{"field":"s","type":"nominal","scale":{"domain":["a","b","c","d","e","f"],"range":[[1,0],[3.7,1.6],[6.4,1.6,1,1.6],[1,1.65],[1,0],[1,0]]}}}}]},
{"width":203,"height":98,"title":"(f) SLO Attainment","data":{"name":"pf"},"transform":[{"fold":["b","c","d","e","f"],"as":["s","v"]}],
"layer":[{"mark":{"type":"line","strokeWidth":1.2},"encoding":{
"x":{"field":"t","type":"quantitative","scale":{"domain":[0,600],"nice":false},"axis":{"values":[0,100,200,300,400,500,600],"title":"Timeline (minutes)"}},
"y":{"field":"v","type":"quantitative","scale":{"domain":[0,105],"nice":false},"axis":{"values":[0,25,50,75,100],"format":"d","title":"Attainment (%)"}},
"color":{"field":"s","type":"nominal","scale":{"domain":["a","b","c","d","e","f"],"range":["#000000","#555555","#7cbd00","#1aa9f0","#ffb000","#c000c0"]}},
"strokeDash":{"field":"s","type":"nominal","scale":{"domain":["a","b","c","d","e","f"],"range":[[1,0],[3.7,1.6],[6.4,1.6,1,1.6],[1,1.65],[1,0],[1,0]]}}}}]},
{"width":203,"height":98,"title":"(g) Serial P99 TPOT","data":{"name":"pg"},"transform":[{"fold":["b","c","d","e","f"],"as":["s","v"]}],
"layer":[{"mark":{"type":"line","strokeWidth":1.2},"encoding":{
"x":{"field":"t","type":"quantitative","scale":{"domain":[0,600],"nice":false},"axis":{"values":[0,100,200,300,400,500,600],"title":"Timeline (minutes)"}},
"y":{"field":"v","type":"quantitative","scale":{"domain":[0,200],"nice":false},"axis":{"values":[0,50,100,150,200],"format":"d","title":"Latency (ms)"}},
"color":{"field":"s","type":"nominal","scale":{"domain":["a","b","c","d","e","f"],"range":["#000000","#555555","#7cbd00","#1aa9f0","#ffb000","#c000c0"]}},
"strokeDash":{"field":"s","type":"nominal","scale":{"domain":["a","b","c","d","e","f"],"range":[[1,0],[3.7,1.6],[6.4,1.6,1,1.6],[1,1.65],[1,0],[1,0]]}}}},
{"mark":{"type":"rule","color":"#ff0000","strokeDash":[4,2.5],"strokeWidth":1},"encoding":{"y":{"datum":50,"type":"quantitative","scale":{"domain":[0,200],"nice":false},"axis":{"values":[0,50,100,150,200],"format":"d","title":"Latency (ms)"}}}},
{"mark":{"type":"text","color":"#ff0000","fontSize":8.6,"align":"left","baseline":"middle","dy":-6},"encoding":{"x":{"datum":25,"type":"quantitative","scale":{"domain":[0,600],"nice":false},"axis":{"values":[0,100,200,300,400,500,600],"title":"Timeline (minutes)"}},"y":{"datum":50,"type":"quantitative","scale":{"domain":[0,200],"nice":false},"axis":{"values":[0,50,100,150,200],"format":"d","title":"Latency (ms)"}},"text":{"value":"SLO=50ms"}}}]},
{"width":205,"height":98,"title":"(h) Parallel P99 TPOT","data":{"name":"ph"},"transform":[{"fold":["b","c","d","e","f"],"as":["s","v"]}],
"layer":[{"mark":{"type":"line","strokeWidth":1.2},"encoding":{
"x":{"field":"t","type":"quantitative","scale":{"domain":[0,600],"nice":false},"axis":{"values":[0,100,200,300,400,500,600],"title":"Timeline (minutes)"}},
"y":{"field":"v","type":"quantitative","scale":{"domain":[0,52],"nice":false},"axis":{"values":[0,12.5,25,37.5,50],"format":".1f","title":"Latency (ms)"}},
"color":{"field":"s","type":"nominal","scale":{"domain":["a","b","c","d","e","f"],"range":["#000000","#555555","#7cbd00","#1aa9f0","#ffb000","#c000c0"]}},
"strokeDash":{"field":"s","type":"nominal","scale":{"domain":["a","b","c","d","e","f"],"range":[[1,0],[3.7,1.6],[6.4,1.6,1,1.6],[1,1.65],[1,0],[1,0]]}}}},
{"mark":{"type":"rule","color":"#ff0000","strokeDash":[4,2.5],"strokeWidth":1},"encoding":{"y":{"datum":50,"type":"quantitative","scale":{"domain":[0,52],"nice":false},"axis":{"values":[0,12.5,25,37.5,50],"format":".1f","title":"Latency (ms)"}}}},
{"mark":{"type":"text","color":"#ff0000","fontSize":8.6,"align":"left","baseline":"middle","dy":6},"encoding":{"x":{"datum":31,"type":"quantitative","scale":{"domain":[0,600],"nice":false},"axis":{"values":[0,100,200,300,400,500,600],"title":"Timeline (minutes)"}},"y":{"datum":50,"type":"quantitative","scale":{"domain":[0,52],"nice":false},"axis":{"values":[0,12.5,25,37.5,50],"format":".1f","title":"Latency (ms)"}},"text":{"value":"SLO=50ms"}}}]},
{"width":203,"height":98,"title":"(i) Branch Admission Rate","data":{"name":"pi"},"transform":[{"fold":["f"],"as":["s","v"]}],
"layer":[{"mark":{"type":"line","strokeWidth":1.2},"encoding":{
"x":{"field":"t","type":"quantitative","scale":{"domain":[0,600],"nice":false},"axis":{"values":[0,100,200,300,400,500,600],"title":"Timeline (minutes)"}},
"y":{"field":"v","type":"quantitative","scale":{"domain":[0,105],"nice":false},"axis":{"values":[0,25,50,75,100],"format":"d","title":"Admission (%)"}},
"color":{"field":"s","type":"nominal","scale":{"domain":["a","b","c","d","e","f"],"range":["#000000","#555555","#7cbd00","#1aa9f0","#ffb000","#c000c0"]}},
"strokeDash":{"field":"s","type":"nominal","scale":{"domain":["a","b","c","d","e","f"],"range":[[1,0],[3.7,1.6],[6.4,1.6,1,1.6],[1,1.65],[1,0],[1,0]]}}}}]}
],
"config":{
"font":"DejaVu Sans",
"view":{"stroke":"#000000","strokeWidth":0.8},
"axis":{"grid":false,"domain":false,"tickColor":"#000000","tickSize":3.5,"tickWidth":0.8,"labelColor":"#000000","labelFont":"DejaVu Sans","labelFontSize":10,"labelPadding":2,"labelFlush":false,"labelOverlap":false,"titleFont":"DejaVu Sans","titleFontSize":8.7,"titleFontWeight":"normal","titleColor":"#333333","titlePadding":10.5},
"title":{"font":"DejaVu Sans","fontSize":10,"fontWeight":"normal","orient":"bottom","offset":6.5,"color":"#000000"},
"legend":{"labelFont":"DejaVu Sans","labelFontSize":10,"labelColor":"#000000","symbolType":"stroke","symbolSize":480,"symbolStrokeWidth":1.5,"labelOffset":8,"columnPadding":20}
}
}
